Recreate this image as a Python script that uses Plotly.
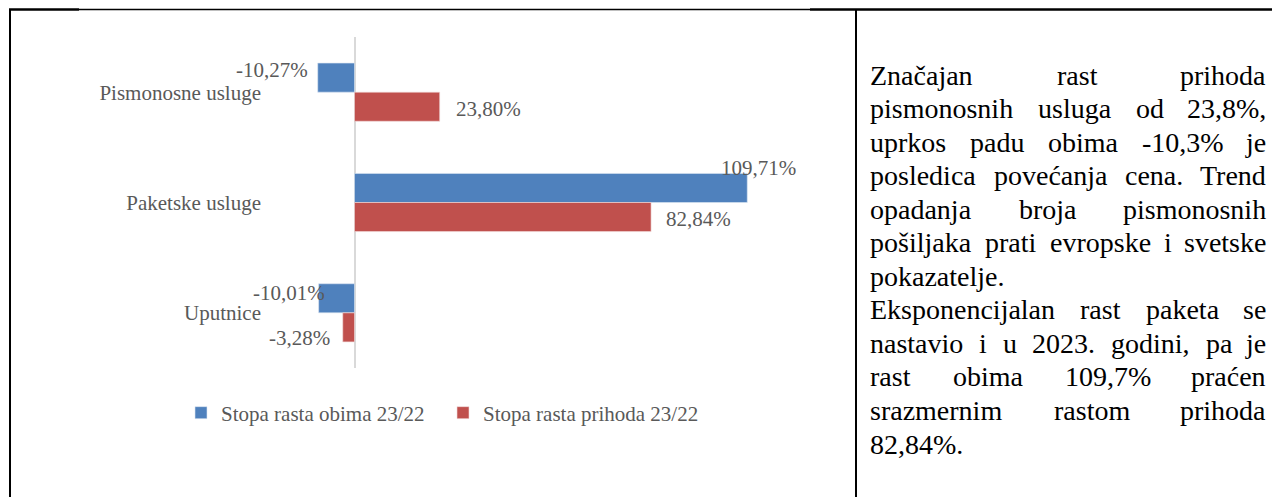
import plotly.graph_objects as go

# ---------------- data ----------------
categories = ["Pismonosne usluge", "Paketske usluge", "Uputnice"]
obim = [-10.27, 109.71, -10.01]       # Stopa rasta obima 23/22
prihod = [23.80, 82.84, -3.28]        # Stopa rasta prihoda 23/22
series_names = ["Stopa rasta obima 23/22", "Stopa rasta prihoda 23/22"]

text_lines = [
    "Značajan rast prihoda",
    "pismonosnih usluga od 23,8%,",
    "uprkos padu obima -10,3% je",
    "posledica povećanja cena. Trend",
    "opadanja broja pismonosnih",
    "pošiljaka prati evropske i svetske",
    "pokazatelje.",
    "Eksponencijalan rast paketa se",
    "nastavio i u 2023. godini, pa je",
    "rast obima 109,7% praćen",
    "srazmernim rastom prihoda",
    "82,84%.",
]
justified = [True, True, True, True, True, True, False, True, True, True, True, False]

# ---------------- styling ----------------
W, H = 1272, 497
BLUE = "#4F81BD"
RED = "#C0504D"
GRAY = "#595959"
FONT = "Liberation Serif"
CHART_FS = 21
TEXT_FS = 28


def px(x):
    return x / W


def py(y):
    return 1 - y / H


def fmt(v):
    return f"{v:.2f}".replace(".", ",") + "%"


fig = go.Figure()
fig.add_trace(go.Bar(y=categories, x=obim, orientation="h", name=series_names[0],
                     marker=dict(color=BLUE, line=dict(color="#dce6f2", width=0.6)),
                     hoverinfo="skip"))
fig.add_trace(go.Bar(y=categories, x=prihod, orientation="h", name=series_names[1],
                     marker=dict(color=RED, line=dict(color="#f2dcdb", width=0.6)),
                     hoverinfo="skip"))

# data labels (offsets as in the reference layout)
obim_style = [("right", -8, 22), ("center", 11, 35), ("right", 8, 20)]
prihod_style = [("left", 14, -17), ("left", 13, -16), ("right", -11, -25)]
annotations = []
for vals, styles in ((obim, obim_style), (prihod, prihod_style)):
    for cat, v, (xa, xs, ys) in zip(categories, vals, styles):
        annotations.append(dict(x=v, y=cat, xref="x", yref="y", text=fmt(v),
                                showarrow=False, xanchor=xa, yanchor="middle",
                                xshift=xs, yshift=ys,
                                font=dict(family=FONT, size=CHART_FS, color=GRAY)))

# right-hand justified text (Times metrics)
widths = {' ': 250, ',': 250, '.': 250, '-': 333, '%': 833, '/': 278,
          'Z': 611, 'T': 611, 'E': 611,
          'a': 444, 'b': 500, 'c': 444, 'č': 444, 'ć': 444, 'd': 500, 'e': 444,
          'f': 333, 'g': 500, 'h': 500, 'i': 278, 'j': 278, 'k': 500, 'l': 278,
          'm': 778, 'n': 500, 'o': 500, 'p': 500, 'r': 333, 's': 389, 'š': 389,
          't': 278, 'u': 500, 'v': 500, 'z': 444, 'ž': 444}


def tw(s):
    return sum(widths.get(ch, 500) for ch in s) / 1000 * TEXT_FS


LEFT, RIGHT = 869, 1267
TOP, STEP = 75, 33.55
tfont = dict(family=FONT, size=TEXT_FS, color="black")
for i, (line, just) in enumerate(zip(text_lines, justified)):
    yc = py(TOP + i * STEP)
    words = line.split(" ")
    if just and len(words) > 1:
        total = sum(tw(w) for w in words)
        gap = (RIGHT - LEFT - total) / (len(words) - 1)
        x = LEFT
        for j, w in enumerate(words):
            last = j == len(words) - 1
            annotations.append(dict(x=px(RIGHT if last else x), y=yc, xref="paper", yref="paper",
                                    text=w, showarrow=False,
                                    xanchor="right" if last else "left",
                                    yanchor="middle", borderpad=0, font=tfont))
            x += tw(w) + gap
    else:
        annotations.append(dict(x=px(LEFT), y=yc, xref="paper", yref="paper",
                                text=line, showarrow=False, xanchor="left",
                                yanchor="middle", borderpad=0, font=tfont))

# table borders
shapes = [
    dict(type="line", xref="paper", yref="paper", x0=px(9), x1=px(79), y0=py(9.5), y1=py(9.5),
         line=dict(color="black", width=2.5)),
    dict(type="line", xref="paper", yref="paper", x0=px(79), x1=px(810), y0=py(9.5), y1=py(9.5),
         line=dict(color="black", width=1.5)),
    dict(type="line", xref="paper", yref="paper", x0=px(810), x1=px(1272), y0=py(9.5), y1=py(9.5),
         line=dict(color="black", width=2.5)),
    dict(type="line", xref="paper", yref="paper", x0=px(10), x1=px(10), y0=py(9), y1=py(497),
         line=dict(color="black", width=2)),
    dict(type="line", xref="paper", yref="paper", x0=px(856), x1=px(856), y0=py(9), y1=py(497),
         line=dict(color="black", width=2)),
]

fig.update_layout(
    width=W, height=H,
    margin=dict(l=0, r=0, t=0, b=0),
    paper_bgcolor="white", plot_bgcolor="white",
    barmode="group", bargap=0.473, bargroupgap=0,
    font=dict(family=FONT, size=CHART_FS, color=GRAY),
    xaxis=dict(domain=[px(265), px(802)], range=[-25, 125], showgrid=False,
               showticklabels=False, zeroline=True, zerolinecolor="#d9d9d9",
               zerolinewidth=1.5, showline=False, fixedrange=True),
    yaxis=dict(domain=[py(368), py(37)], type="category", categoryorder="array",
               categoryarray=categories, autorange="reversed", showgrid=False,
               ticks="", showline=False, zeroline=False, ticklabelstandoff=3,
               tickfont=dict(family=FONT, size=CHART_FS, color=GRAY), fixedrange=True),
    showlegend=True,
    legend=dict(orientation="h", x=px(181), y=py(413), xanchor="left", yanchor="middle",
                traceorder="normal", entrywidth=217,
                font=dict(family=FONT, size=CHART_FS, color=GRAY),
                bgcolor="rgba(0,0,0,0)"),
    annotations=annotations,
    shapes=shapes,
)

fig.write_html("out.html", config={"displayModeBar": False},
               post_script="document.body.style.margin='0px';document.body.style.overflow='hidden';")
